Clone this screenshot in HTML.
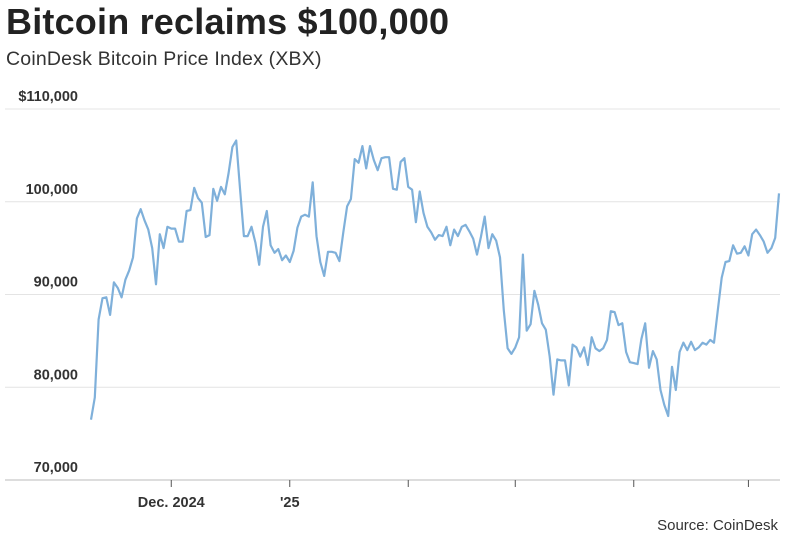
<!DOCTYPE html>
<html><head><meta charset="utf-8"><style>
body{margin:0;background:#fff;width:786px;height:543px;overflow:hidden;font-family:"Liberation Sans",sans-serif}
#title{position:absolute;left:6px;top:1px;font-size:36px;font-weight:bold;color:#222;letter-spacing:0.2px}
#sub{position:absolute;left:6px;top:48px;font-size:19.5px;color:#333;letter-spacing:0.2px}
#src{position:absolute;right:8px;top:517px;font-size:15px;color:#333}
svg{position:absolute;left:0;top:0}
</style></head><body>
<div id="title">Bitcoin reclaims $100,000</div>
<div id="sub">CoinDesk Bitcoin Price Index (XBX)</div>
<div id="src">Source: CoinDesk</div>
<svg id="chart" width="786" height="543"></svg>
<script>
const yTicks=[70,80,90,100,110];
const yTickLabels=["70,000","80,000","90,000","100,000","$110,000"];
const xTickDays=[21,52,83,111,142,172];
const xTickLabels=["Dec. 2024","'25","","","",""];
const prices=[76.5,78.9,87.3,89.6,89.7,87.8,91.3,90.7,89.7,91.6,92.6,94.0,98.2,99.2,98.0,97.0,95.0,91.1,96.5,95.0,97.3,97.1,97.1,95.7,95.7,99.0,99.1,101.5,100.4,99.9,96.2,96.4,101.4,100.1,101.6,100.8,103.1,105.9,106.6,101.3,96.3,96.3,97.3,95.6,93.2,97.3,99.0,95.3,94.5,94.9,93.7,94.2,93.5,94.7,97.2,98.4,98.6,98.4,102.1,96.3,93.5,92.0,94.6,94.6,94.5,93.6,96.7,99.5,100.3,104.6,104.2,106.0,103.6,106.0,104.5,103.4,104.7,104.8,104.8,101.4,101.3,104.3,104.7,101.6,101.3,97.8,101.1,98.8,97.3,96.7,95.9,96.4,96.3,97.3,95.3,97.0,96.3,97.3,97.5,96.8,96.0,94.3,96.2,98.4,95.0,96.5,95.8,94.0,88.3,84.2,83.6,84.3,85.4,94.3,86.1,86.8,90.4,88.9,86.9,86.2,83.3,79.2,83.0,82.9,82.9,80.2,84.6,84.3,83.3,84.3,82.4,85.4,84.2,83.9,84.2,85.1,88.2,88.1,86.7,86.9,83.8,82.7,82.6,82.5,85.2,86.9,82.1,83.9,83.0,79.7,78.1,76.9,82.2,79.7,83.8,84.8,84.0,84.9,84.0,84.3,84.8,84.6,85.1,84.8,88.3,91.8,93.5,93.6,95.3,94.4,94.5,95.2,94.2,96.5,97.0,96.4,95.7,94.5,95.0,96.1,100.9];
const NS='http://www.w3.org/2000/svg';
const svg=document.getElementById('chart');
const x0=91,x1=779;
function xs(d){return x0+d*(x1-x0)/(prices.length-1);}
function ys(v){return 480-(v-70)*9.275;}
function mk(t,a){const e=document.createElementNS(NS,t);for(const k in a)e.setAttribute(k,a[k]);svg.appendChild(e);return e;}
yTicks.forEach((v,i)=>{
  const g=mk('line',{x1:5,x2:780,y1:ys(v),y2:ys(v),stroke:i==0?'#ddd':'#e4e4e4','stroke-width':i==0?2:1});
  
  
  const t=mk('text',{x:78,y:ys(v)-8,'text-anchor':'end','font-size':14.5,'font-weight':'bold',fill:'#333','font-family':'Liberation Sans, sans-serif'});
  t.textContent=yTickLabels[i];
  
  
});
xTickDays.forEach((d,i)=>{
  const l=mk('line',{x1:xs(d),x2:xs(d),y1:480,y2:487,stroke:'#555','stroke-width':1});
  
  
  if(xTickLabels[i]){
    const t=mk('text',{x:xs(d),y:507,'text-anchor':'middle','font-size':14.5,'font-weight':'bold',fill:'#333','font-family':'Liberation Sans, sans-serif'});
    t.textContent=xTickLabels[i];
    
    
  }
});
const p=mk('path',{d:prices.map((v,i)=>(i?'L':'M')+xs(i).toFixed(1)+' '+ys(v).toFixed(1)).join(''),fill:'none',stroke:'#7fb0da','stroke-width':2.2,'stroke-linejoin':'round'});


</script>
</body></html>
